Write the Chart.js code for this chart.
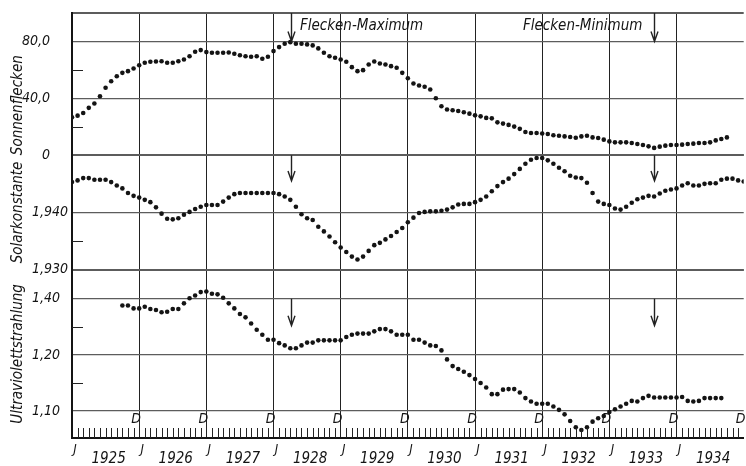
<!DOCTYPE html>
<html>
<head>
<meta charset="utf-8">
<script src="https://cdn.jsdelivr.net/npm/chart.js@4.4.0/dist/chart.umd.min.js"></script>
<style>
    html, body { margin: 0; padding: 0; background: #fff; }
</style>
</head>
<body>
<canvas id="myChart" width="746" height="466"></canvas>
<script>
// monthly means, first point = January of startYear
const startYear = 1925;
const sunspots = [
    26.6, 27.8, 29.7, 33.3, 36.3, 41.4, 47.4, 52.0, 55.5, 57.9, 59.1, 61.0,
    63.3, 65.0, 65.7, 65.9, 66.1, 65.0, 65.0, 66.1, 67.3, 69.6, 72.7, 73.9,
    72.5, 72.0, 72.0, 72.0, 72.2, 71.3, 70.3, 69.6, 69.2, 69.6, 67.8, 69.2,
    73.2, 76.0, 78.4, 79.5, 78.4, 78.4, 77.9, 77.2, 75.1, 72.0, 69.6, 68.5,
    67.3, 65.7, 61.9, 59.1, 59.8, 63.8, 65.9, 64.5, 63.8, 62.6, 61.5, 57.9,
    54.1, 50.4, 49.0, 48.1, 46.2, 40.0, 34.4, 32.1, 31.6, 31.1, 30.2, 29.2,
    28.0, 27.3, 26.2, 25.9, 23.1, 22.2, 21.3, 20.1, 18.5, 16.3, 15.6, 15.6,
    15.2, 14.9, 14.0, 13.7, 13.2, 12.8, 12.3, 13.2, 13.7, 12.5, 12.1, 10.9,
    9.7, 9.0, 9.0, 9.0, 8.6, 7.9, 7.2, 6.2, 5.1, 6.0, 6.7, 7.2,
    7.2, 7.4, 7.9, 8.1, 8.6, 8.6, 9.0, 10.4, 11.4, 12.5
];
const solarConstant = [
    1.9453, 1.9456, 1.9460, 1.9460, 1.9457, 1.9457, 1.9457, 1.9453, 1.9447, 1.9442, 1.9434, 1.9429,
    1.9426, 1.9422, 1.9418, 1.9409, 1.9398, 1.9389, 1.9388, 1.9390, 1.9396, 1.9401, 1.9406, 1.9410,
    1.9413, 1.9413, 1.9413, 1.9419, 1.9426, 1.9432, 1.9434, 1.9434, 1.9434, 1.9434, 1.9434, 1.9434,
    1.9434, 1.9432, 1.9428, 1.9422, 1.9410, 1.9397, 1.9390, 1.9387, 1.9375, 1.9367, 1.9358, 1.9348,
    1.9339, 1.9331, 1.9323, 1.9318, 1.9323, 1.9333, 1.9343, 1.9347, 1.9353, 1.9359, 1.9366, 1.9373,
    1.9383, 1.9391, 1.9399, 1.9401, 1.9402, 1.9402, 1.9403, 1.9405, 1.9409, 1.9414, 1.9415, 1.9415,
    1.9418, 1.9422, 1.9428, 1.9437, 1.9446, 1.9453, 1.9459, 1.9467, 1.9476, 1.9485, 1.9492, 1.9495,
    1.9495, 1.9491, 1.9485, 1.9478, 1.9472, 1.9464, 1.9461, 1.9460, 1.9452, 1.9434, 1.9419, 1.9415,
    1.9413, 1.9407, 1.9405, 1.9410, 1.9417, 1.9423, 1.9426, 1.9429, 1.9428, 1.9433, 1.9438, 1.9440,
    1.9442, 1.9447, 1.9451, 1.9447, 1.9447, 1.9450, 1.9451, 1.9451, 1.9457, 1.9459, 1.9459, 1.9456,
    1.9454
];
// ultraviolet series starts in October 1925 (9 months later)
const uvOffset = 9;
const ultraviolet = [
    1.288, 1.288, 1.283,
    1.283, 1.286, 1.282, 1.280, 1.276, 1.277, 1.282, 1.282, 1.292, 1.301, 1.306, 1.312,
    1.313, 1.309, 1.308, 1.302, 1.292, 1.283, 1.273, 1.267, 1.256, 1.245, 1.236, 1.227,
    1.227, 1.221, 1.217, 1.212, 1.212, 1.217, 1.222, 1.222, 1.226, 1.226, 1.226, 1.226,
    1.226, 1.232, 1.236, 1.238, 1.238, 1.238, 1.242, 1.246, 1.246, 1.242, 1.236, 1.236,
    1.236, 1.227, 1.227, 1.222, 1.217, 1.216, 1.208, 1.192, 1.180, 1.175, 1.170, 1.164,
    1.157, 1.150, 1.142, 1.130, 1.130, 1.138, 1.139, 1.139, 1.133, 1.123, 1.117, 1.113,
    1.113, 1.113, 1.108, 1.102, 1.094, 1.082, 1.071, 1.066, 1.071, 1.081, 1.087, 1.091,
    1.098, 1.103, 1.108, 1.113, 1.118, 1.117, 1.123, 1.127, 1.124, 1.124, 1.124, 1.124,
    1.124, 1.125, 1.118, 1.117, 1.118, 1.123, 1.123, 1.123, 1.123
];

// axis ticks (labels as printed on the original)
const yearTicks = [1925, 1926, 1927, 1928, 1929, 1930, 1931, 1932, 1933, 1934];
const yearLabels = ['1925', '1926', '1927', '1928', '1929', '1930', '1931', '1932', '1933', '1934'];
const decemberMarks = [1926, 1927, 1928, 1929, 1930, 1931, 1932, 1933, 1934, 1935];
const sunTicks = [0, 40, 80];
const sunTickLabels = ['0', '40,0', '80,0'];
const sunMinor = [20, 60];
const solTicks = [1.930, 1.940];
const solTickLabels = ['1,930', '1,940'];
const solMinor = [1.935];
const uvTicks = [1.10, 1.20, 1.30];
const uvTickLabels = ['1,10', '1,20', '1,40'];
const uvMinor = [1.15, 1.25];

const spotMaximum = 1928.26;
const spotMinimum = 1933.67;

const FONT = "'Liberation Sans Narrow', 'DejaVu Sans Condensed', sans-serif";
const INK = '#141414';

const toPoints = (arr, offset) => arr.map((v, i) => ({ x: startYear + (i + offset) / 12, y: v }));
const noPadding = s => { s.paddingTop = 0; s.paddingBottom = 0; s.paddingLeft = 0; s.paddingRight = 0; };

function panelScale(ticks, labels, min, max, weight, title, pad, align) {
    const values = [...new Set([min, ...ticks, max])];
    return {
        type: 'linear',
        position: 'left',
        stack: 'panels',
        stackWeight: weight,
        min: min,
        max: max,
        afterBuildTicks: s => { s.ticks = values.map(v => ({ value: v })); },
        afterFit: s => { s.width = 72; noPadding(s); },
        ticks: {
            autoSkip: false,
            padding: pad,
            color: INK,
            font: { family: FONT, size: 14, style: 'italic' },
            callback: value => {
                const i = ticks.indexOf(value);
                return i >= 0 ? labels[i] : '';
            }
        },
        grid: {
            drawTicks: false,
            color: '#5c5c5c',
            lineWidth: c => (c.tick && (c.tick.value === min || c.tick.value === max)) ? 2 : 1.2
        },
        border: { display: true, color: INK, width: 2 },
        title: {
            display: true,
            text: title,
            align: align,
            color: INK,
            font: { family: FONT, size: 15, style: 'italic' },
            padding: { top: 9, bottom: 0 }
        }
    };
}

const overlay = {
    id: 'overlay',
    beforeDraw(chart) {
        const ctx = chart.ctx;
        ctx.save();
        ctx.fillStyle = '#fff';
        ctx.fillRect(0, 0, chart.width, chart.height);
        ctx.restore();
    },
    afterDatasetsDraw(chart) {
        const { ctx, chartArea, scales } = chart;
        const xs = scales.x;
        ctx.save();
        ctx.strokeStyle = '#222';
        ctx.lineWidth = 1;
        ctx.beginPath();
        // short inner ticks on the value axes
        [['ySun', sunMinor], ['ySol', solMinor], ['yUV', uvMinor]].forEach(([id, vals]) => {
            vals.forEach(v => {
                const y = Math.round(scales[id].getPixelForValue(v)) + 0.5;
                ctx.moveTo(chartArea.left, y);
                ctx.lineTo(chartArea.left + 11, y);
            });
        });
        // month ticks above the time axis
        for (let m = 1; m < 120; m++) {
            if (m % 12 === 0) continue;
            const px = Math.round(xs.getPixelForValue(startYear + m / 12)) + 0.5;
            ctx.moveTo(px, chartArea.bottom);
            ctx.lineTo(px, chartArea.bottom - 10);
        }
        ctx.stroke();

        // "D" (December) marks
        ctx.fillStyle = INK;
        ctx.font = 'italic 14px ' + FONT;
        ctx.textAlign = 'center';
        ctx.textBaseline = 'middle';
        const yD = scales.yUV.getPixelForValue(1.10) + 8;
        decemberMarks.forEach(yr => ctx.fillText('D', xs.getPixelForValue(yr) - 3, yD));

        // arrows for spot maximum / minimum in every panel
        const spans = [['ySun', 100, 80], ['ySol', 1.950, 1.9455], ['yUV', 1.30, 1.252]];
        ctx.lineWidth = 1.4;
        [spotMaximum, spotMinimum].forEach(yr => {
            const px = Math.round(xs.getPixelForValue(yr)) + 0.5;
            spans.forEach(([id, a, b]) => {
                const y1 = scales[id].getPixelForValue(a);
                const y2 = scales[id].getPixelForValue(b);
                ctx.beginPath();
                ctx.moveTo(px, y1);
                ctx.lineTo(px, y2);
                ctx.moveTo(px - 3.5, y2 - 10);
                ctx.lineTo(px, y2);
                ctx.lineTo(px + 3.5, y2 - 10);
                ctx.stroke();
            });
        });

        ctx.font = 'italic 15px ' + FONT;
        const yText = scales.ySun.getPixelForValue(90.5);
        ctx.textAlign = 'left';
        ctx.fillText('Flecken-Maximum', xs.getPixelForValue(spotMaximum) + 9, yText);
        ctx.textAlign = 'right';
        ctx.fillText('Flecken-Minimum', xs.getPixelForValue(spotMinimum) - 12, yText);
        ctx.restore();
    }
};

const dot = { showLine: false, pointRadius: 2.3, pointHoverRadius: 2.3, backgroundColor: INK, borderWidth: 0 };
const isJan = c => c.tick && Number.isInteger(c.tick.value);

new Chart(document.getElementById('myChart'), {
    type: 'scatter',
    data: {
        datasets: [
            { ...dot, label: 'Sonnenflecken', data: toPoints(sunspots, 0), yAxisID: 'ySun' },
            { ...dot, label: 'Solarkonstante', data: toPoints(solarConstant, 0), yAxisID: 'ySol' },
            { ...dot, label: 'Ultraviolettstrahlung', data: toPoints(ultraviolet, uvOffset), yAxisID: 'yUV' }
        ]
    },
    options: {
        responsive: false,
        animation: false,
        events: [],
        layout: { padding: { top: 13, left: 0, right: 0, bottom: 0 } },
        plugins: { legend: { display: false }, tooltip: { enabled: false } },
        scales: {
            x: {
                type: 'linear',
                position: 'bottom',
                min: 1925,
                max: 1935,
                afterBuildTicks: s => {
                    s.ticks = [];
                    yearTicks.forEach(v => { s.ticks.push({ value: v }); s.ticks.push({ value: v + 0.5 }); });
                },
                afterFit: s => { s.height = 28; noPadding(s); },
                ticks: {
                    autoSkip: false, maxRotation: 0, minRotation: 0, padding: 4, labelOffset: 3, color: INK,
                    font: c => isJan(c)
                        ? { family: FONT, size: 13, style: 'italic' }
                        : { family: FONT, size: 15, style: 'italic', lineHeight: 0.75 },
                    callback: (v, i) => Number.isInteger(v) ? 'J' : ['', yearLabels[Math.floor(i / 2)]]
                },
                grid: {
                    drawTicks: false,
                    color: c => isJan(c) ? '#222' : 'rgba(0,0,0,0)',
                    lineWidth: c => isJan(c) ? 1 : 0
                },
                border: { display: true, color: INK, width: 2 }
            },
            yUV: panelScale(uvTicks, uvTickLabels, 1.0518, 1.3518, 168, 'Ultraviolettstrahlung', 12, 'center'),
            ySol: panelScale(solTicks, solTickLabels, 1.930, 1.950, 114.5, 'Solarkonstante', 4, 'center'),
            ySun: panelScale(sunTicks, sunTickLabels, 0, 100, 142, 'Sonnenflecken', 22, 'start')
        }
    },
    plugins: [overlay]
});
</script>
</body>
</html>
